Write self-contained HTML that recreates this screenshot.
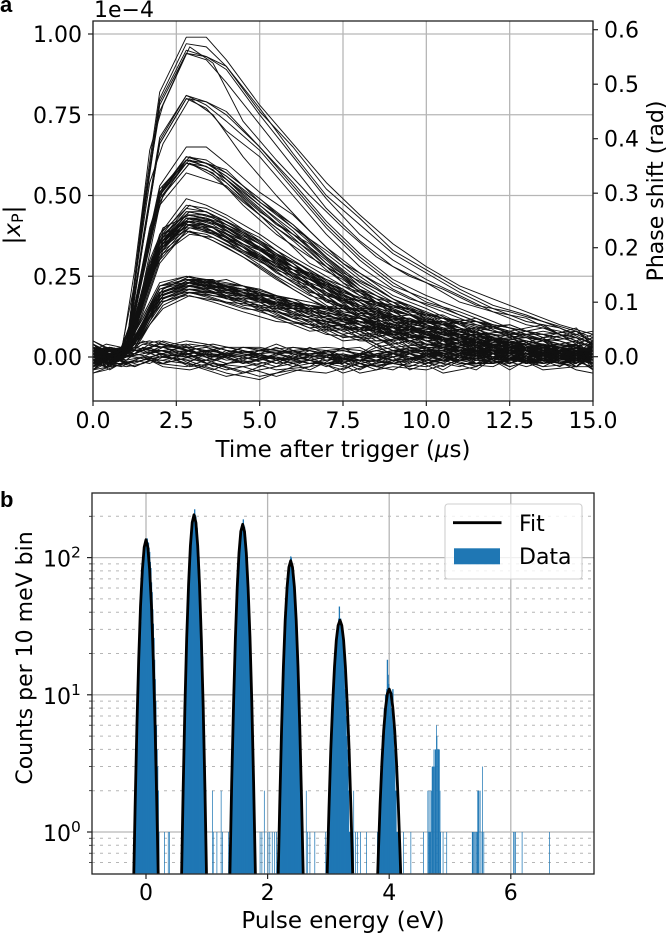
<!DOCTYPE html>
<html lang="en">
<head>
<meta charset="utf-8">
<title>Pulse response and energy histogram</title>
<style>
html,body{margin:0;padding:0;background:#fff;}
svg{display:block;}
text{font-family:"DejaVu Sans","Liberation Sans",sans-serif;fill:#000;}
.panel{font-family:"Liberation Sans",sans-serif;font-weight:bold;font-size:22px;}
</style>
</head>
<body>
<svg id="fig" xmlns="http://www.w3.org/2000/svg" width="666" height="933" viewBox="0 0 666 933">
  <defs>
    <clipPath id="clipA"><rect x="93" y="21" width="500" height="380"/></clipPath>
    <clipPath id="clipB"><rect x="92" y="493" width="502" height="381"/></clipPath>
  </defs>
  <g id="panelA"></g>
  <g id="panelB"></g>
</svg>
<script>
// ---------- Panel a data ----------
const traceTimes = [0,0.5,1,1.5,2,2.8,3.4,4,5,6,7,8,9,10,11,12,13,14,15];
const traceTimesB = [0,0.4,0.85,1.25,1.7,2.1,2.9,3.6,4.5,5.5,6.5,7.5,8.5,9.5,10.5,11.5,12.5,13.5,14.5,15];
// |x_P| values in units of 1e-6 (axis value x 100)
const traces1 = [
[1,-1,2,46,82,99,99,92,78,66,54,44,35,28,22,18,14,10,7],
[-2,0,3,44,80,97,96,90,76,65,52,43,33,27,21,16,13,9,5],
[2,1,1,43,79,95,93,90,77,63,50,41,32,26,20,15,11,9,4],
[0,-2,2,42,78,94,93,89,75,62,49,38,30,24,19,14,12,7,3],
[-1,1,3,45,76,94,92,85,72,59,46,36,28,23,17,14,10,8,4]
];
const traces2 = [
[1,-1,3,37,68,81,79,76,65,53,41,31,23,17,14,10,8,6,3],
[-2,1,2,36,67,81,78,73,64,52,40,30,22,18,13,9,6,5,2],
[0,2,1,35,66,80,79,75,65,54,42,32,24,19,15,11,7,4,1],
[3,0,3,35,66,80,77,70,62,50,38,28,21,16,12,8,7,3,4]
];
const traces3 = [
[-1,1,3,29,53,65,65,60,51,44,34,26,19,15,10,7,6,4,2],
[2,-1,2,28,51,62,61,57,49,41,32,24,18,13,11,8,5,2,3],
[0,0,1,27,50,62,60,58,48,40,31,23,17,12,9,6,4,3,0],
[-2,2,3,28,52,61,60,56,47,39,29,22,16,13,8,7,3,4,1],
[1,-2,2,27,50,61,59,55,47,38,30,21,15,11,9,5,6,1,-1],
[3,1,1,26,49,60,59,55,46,37,28,21,17,10,7,6,2,3,2],
[-1,0,3,28,51,62,60,57,49,40,33,25,18,14,10,5,4,1,0],
[0,-1,2,27,50,60,58,54,45,38,29,20,14,12,8,4,5,2,-2],
[2,2,1,25,48,61,60,56,48,41,31,22,16,11,7,6,3,0,1],
[-3,0,2,22,47,57,55,53,44,36,27,19,14,9,8,5,3,2,3]
];
const traces4 = [
[1,2,3,21,38,49,47,44,38,31,25,19,15,11,9,6,5,2,3],
[-2,0,2,20,37,47,46,43,36,30,24,18,13,10,7,7,3,4,1],
[3,-1,1,20,36,46,45,42,37,29,22,17,12,9,8,4,2,1,-1],
[0,1,2,19,36,45,45,41,36,30,23,16,13,10,6,5,4,0,2],
[-1,-2,3,20,35,45,44,42,35,28,23,18,11,8,7,3,5,3,0],
[2,0,1,19,35,44,44,41,35,29,21,15,12,9,5,6,1,2,-2],
[-3,1,2,19,35,44,43,40,34,27,21,17,10,11,6,4,3,-1,1],
[1,3,2,18,34,44,43,41,36,28,22,14,11,8,7,2,4,2,3],
[0,-1,1,18,34,43,43,39,34,29,20,16,13,7,4,5,2,3,-1],
[4,0,3,20,35,43,42,40,33,26,22,15,9,10,6,3,1,1,2],
[-2,2,1,17,33,43,42,40,35,27,19,16,12,6,5,4,3,0,0],
[1,-3,2,18,34,43,41,39,33,28,21,13,10,8,3,5,0,2,1],
[-1,1,2,18,33,42,41,38,32,25,20,15,8,9,5,2,3,-2,-1],
[2,2,1,17,33,42,42,40,34,26,18,14,11,5,6,1,4,1,3],
[0,-2,3,17,32,42,40,37,33,26,19,12,9,7,4,3,-1,2,0],
[-4,0,1,16,32,41,41,38,31,24,20,13,10,4,2,4,1,0,-2],
[3,1,2,17,33,41,39,37,31,25,17,14,7,6,4,0,2,-1,1],
[-1,-1,1,16,31,40,40,36,30,23,16,11,8,5,3,1,2,1,-1],
[1,0,2,15,30,39,38,35,30,23,18,12,6,4,1,2,-2,0,2],
[-2,1,1,14,29,39,37,34,28,21,15,10,7,3,2,-1,1,-1,0]
];
const traces5 = [
[0,2,2,13,23,25,24,23,21,17,15,12,9,9,6,5,3,2,3],
[-1,-1,3,12,22,25,23,24,20,16,14,11,10,7,5,4,1,3,1],
[2,0,1,11,22,24,24,21,19,18,13,10,8,6,7,2,3,0,-1],
[-2,1,2,11,21,24,23,22,20,15,15,12,7,8,4,5,2,1,2],
[3,-2,1,11,21,24,22,21,21,17,12,11,9,5,6,3,0,2,0],
[1,0,3,12,22,23,24,22,18,16,13,9,10,7,3,4,1,-1,1],
[-3,1,1,10,20,23,23,20,19,14,14,10,6,6,5,1,2,3,-2],
[0,3,2,10,21,23,22,21,20,17,11,12,8,4,4,3,-1,0,3],
[1,-1,1,10,20,23,22,20,18,15,12,8,9,6,2,2,3,1,0],
[-1,0,2,10,20,22,23,21,17,16,13,10,5,7,5,0,1,2,-1],
[4,1,1,11,20,22,21,19,19,14,10,9,7,3,3,4,-2,1,1],
[-2,2,3,9,19,22,21,22,18,13,12,7,8,5,1,2,2,-1,2],
[2,-3,1,9,19,22,22,19,16,15,9,11,6,4,4,-1,0,3,0],
[0,0,2,9,19,21,20,20,17,12,11,8,4,6,2,3,-1,0,-2],
[-1,1,1,8,18,21,21,18,18,14,10,6,7,2,0,1,3,-2,1],
[1,-1,2,9,18,20,20,19,15,13,8,9,3,4,3,-2,1,2,-1],
[3,2,1,8,18,20,19,17,16,11,9,5,5,1,1,2,-2,0,0],
[-3,0,2,7,17,19,18,17,14,11,7,6,2,3,-1,0,1,-1,2]
];
const traces6 = [
[1,3,2,2,4,3,2,1,2,3,1,0,2,1,3,0,-1,2,1],
[-1,0,-1,3,1,2,3,1,2,0,-2,1,0,2,-1,1,2,-1,0],
[3,2,1,4,3,5,4,2,1,2,3,2,-1,0,1,3,0,1,-2],
[-2,-1,0,1,2,0,1,3,3,1,0,-1,1,-2,0,-1,3,0,2],
[0,1,-2,-1,0,1,-1,2,0,-1,2,-3,-2,1,2,1,-2,1,-1],
[2,-2,0,2,4,2,0,-2,-1,2,-1,1,3,-1,-1,2,1,-3,3],
[-4,-3,-2,0,-1,-2,1,0,-3,1,1,-2,0,3,-2,-2,1,2,0],
[4,1,-1,3,2,1,2,3,1,-2,0,-3,-1,-2,1,0,-1,-1,-1],
[-5,-3,-2,-1,1,0,-2,-4,-2,0,-2,-1,2,0,3,-1,0,2,1],
[1,-1,1,5,3,3,0,1,-1,3,2,3,-2,-3,0,2,-2,0,-3],
[-3,-2,-3,-2,0,-1,-3,-5,-7,-3,-1,0,1,-1,-3,1,1,-2,2],
[2,3,0,1,3,4,1,-1,0,-1,1,-4,1,2,-2,-3,2,1,-1],
[-1,-4,-1,0,-2,-3,-1,-3,-6,-4,-5,-2,-4,1,1,0,-3,0,1],
[5,2,1,4,5,2,3,1,2,1,-3,1,-1,0,2,-2,0,-2,0],
[-2,0,-2,-1,1,-2,-4,-6,-4,-2,0,-5,-3,-4,-1,1,-2,3,-4],
[0,-2,0,2,0,1,-2,0,1,-3,2,-1,-2,1,-1,-1,3,-1,2]
];
// Second set sampled on traceTimesB
const tracesHighB = [
[2,0,1,27,64,78,96,91,73,61,50,40,31,25,21,16,14,11,8,4],
[-1,1,2,23,54,66,80,75,62,50,39,29,23,18,15,11,8,5,6,2],
[1,-2,2,15,38,52,62,59,50,41,35,26,21,15,12,6,7,2,4,-1],
[-2,2,1,13,37,50,60,57,47,38,31,25,17,15,8,9,3,6,-1,3],
[3,0,3,14,36,50,60,56,48,40,33,23,18,11,10,4,5,3,1,-2],
[0,1,0,16,40,53,61,58,49,39,29,24,16,13,7,8,-1,4,2,0]
];
const tracesMidB = [
[2,-3,1,11,29,39,47,44,39,32,27,20,16,13,9,8,3,5,-1,2],
[-3,1,0,9,27,38,45,43,37,30,24,21,13,11,11,5,6,1,2,-3],
[1,3,2,12,30,40,44,42,36,31,25,18,17,9,7,9,2,3,4,1],
[4,0,-1,10,28,37,43,41,35,28,26,19,12,12,6,4,7,-2,1,3],
[-1,-2,1,8,26,36,43,42,38,29,22,17,14,8,10,6,1,4,-3,0],
[0,2,3,11,28,38,42,40,34,27,23,15,15,10,5,7,4,0,3,-2],
[-4,-1,2,9,27,36,41,40,33,29,20,18,10,11,8,2,5,2,-1,4],
[3,1,0,10,26,35,41,38,34,26,21,14,13,6,9,3,-1,3,5,0],
[-2,0,1,8,25,35,40,39,32,25,19,16,9,10,4,5,2,-2,0,-4],
[1,-3,2,7,24,33,39,36,31,24,18,13,11,5,3,6,-2,1,2,1]
];
const tracesLowB = [
[-1,2,1,6,15,21,25,23,21,18,15,15,10,8,9,4,3,5,-2,1],
[3,-2,0,5,15,20,24,24,19,19,13,12,12,6,7,6,-1,2,4,-3],
[0,1,2,6,14,20,24,22,22,16,16,11,9,10,4,2,5,-1,1,3],
[-3,-1,1,5,14,20,23,23,20,17,14,13,7,9,6,5,1,3,-3,2],
[2,3,0,5,14,19,23,21,18,18,12,10,11,5,8,1,4,0,2,-1],
[1,-3,-1,4,13,19,23,22,21,15,15,9,8,7,3,4,-2,4,1,5],
[-2,0,2,5,13,19,22,22,19,16,11,12,6,9,5,-1,3,1,-1,0],
[4,1,1,4,13,18,22,20,17,17,13,8,10,3,2,5,0,-2,3,-2],
[-1,-2,0,4,12,18,22,21,20,14,10,11,5,6,6,2,-2,2,0,1],
[0,2,1,3,12,18,21,20,16,15,12,7,9,4,1,3,1,-3,-2,4],
[-4,0,1,3,11,17,21,19,18,13,9,10,4,7,3,0,4,1,2,-1],
[2,-1,2,4,12,17,20,18,15,14,11,6,7,2,5,-2,-1,-1,-3,2],
[1,1,0,3,10,16,20,19,17,12,8,9,3,5,0,1,2,3,1,-2],
[-2,3,-1,2,10,15,19,17,14,11,10,5,6,1,-1,3,-3,0,-1,3]
];
const tracesBaseB = [
[2,4,3,2,3,5,3,4,2,-1,1,2,-1,3,0,-3,2,4,-2,5],
[-3,-1,0,1,3,0,2,-1,3,1,-2,-2,3,-1,4,1,-3,0,3,-4],
[1,-2,-3,-1,1,2,-2,-4,0,-3,2,0,-4,1,-2,3,1,-2,-1,2],
[4,2,1,1,4,3,1,2,-1,3,-1,-3,1,2,2,-2,4,2,1,0],
[-5,-4,-2,-3,-1,-2,0,1,-2,0,-4,1,-1,-3,1,-1,-2,3,-3,1],
[0,1,2,3,2,1,4,3,1,-2,3,-1,2,0,-3,2,0,-3,2,-2],
[-2,-3,-1,-2,0,1,-3,-2,-5,-1,0,-5,-2,2,-1,-4,3,1,-2,3],
[3,0,-1,4,5,4,2,0,3,2,1,2,0,-2,3,0,-1,-1,4,-1],
[-1,2,1,0,-1,-1,1,-3,-1,-4,-3,3,-3,1,-4,2,-4,2,0,4],
[1,-1,0,2,1,3,0,2,-2,1,2,-2,4,-4,0,-2,1,-4,-3,-3],
[-4,-2,-2,-1,-2,0,-1,-1,2,-2,-1,-4,1,3,-1,1,2,0,1,1],
[5,3,1,3,2,2,3,1,0,4,0,1,-3,-1,2,-1,-2,3,-1,-2],
[-2,1,-1,-3,-1,-3,-4,-2,-3,-6,-3,-1,-1,-3,1,3,-1,-2,2,2],
[0,-1,2,1,0,-2,2,0,1,0,-2,0,2,0,-5,-3,3,1,-4,-5]
];
const tracesSlowB = [
[1,-1,2,8,25,34,40,38,33,28,24,20,17,14,12,11,9,7,8,5],
[-2,2,1,7,24,32,38,37,32,27,23,19,16,15,10,12,7,9,5,7],
[0,0,1,9,26,35,41,39,34,29,25,21,15,13,13,8,10,6,9,3],
[2,1,0,10,27,36,42,40,36,30,26,22,18,16,11,10,8,10,4,6],
[-1,-3,1,4,14,20,24,23,21,18,16,15,14,11,12,9,10,6,7,8],
[3,0,2,5,15,21,25,23,22,19,17,14,12,13,10,11,6,8,6,4],
[-3,1,0,4,13,19,23,22,20,19,15,16,13,10,11,7,8,5,8,6],
[0,2,1,4,14,20,23,21,19,17,16,13,11,12,8,9,7,7,3,5]
];
const allTraces = [traces1,traces2,traces3,traces4,traces5,traces6];
const allTracesB = [tracesHighB,tracesMidB,tracesLowB,tracesBaseB,tracesSlowB];
const xTicksA = [0,2.5,5,7.5,10,12.5,15];
const xTickLabelsA = ["0.0","2.5","5.0","7.5","10.0","12.5","15.0"];
const yTicksA = [0,0.25,0.5,0.75,1];
const yTickLabelsA = ["0.00","0.25","0.50","0.75","1.00"];
const yTicksRight = [0,0.1,0.2,0.3,0.4,0.5,0.6];
const yTickLabelsRight = ["0.0","0.1","0.2","0.3","0.4","0.5","0.6"];

// ---------- Panel b data ----------
const fitCenters = [0,0.79,1.59,2.38,3.19,4.0];
const fitOffsets = [0,0.03,0.06,0.09,0.12,0.15,0.18,0.21];
const fitPeak0 = [135,119,82,44,18,5.9,1.5,0.3];
const fitPeak1 = [205,180,122,64,26,8.1,1.95,0.37];
const fitPeak2 = [175,155,108,60,26,8.8,2.3,0.49];
const fitPeak3 = [95,85,61,35,16,5.7,1.66,0.39];
const fitPeak4 = [35,32,25,16,8.7,4,1.5,0.5];
const fitPeak5 = [11,10.2,8.1,5.5,3.2,1.6,0.68,0.25];
const allFit = [fitPeak0,fitPeak1,fitPeak2,fitPeak3,fitPeak4,fitPeak5];
// Counts in 10 meV bins starting at each peak's first bin
const binStarts = [-0.19,0.59,1.39,2.18,2.99,3.82];
const binsPeak0 = [1,1,2,3,5,7,10,14,19,26,34,45,55,68,83,96,108,120,127,132,138,130,128,118,110,93,84,66,56,42,33,26,18,13,9,6,4,3,2,1];
const binsPeak1 = [1,2,3,4,6,9,13,20,27,36,50,65,80,98,122,140,162,180,194,200,225,205,198,178,165,140,120,102,82,62,47,36,25,19,12,8,5,3,2,1];
const binsPeak2 = [1,1,2,4,6,9,13,19,28,38,48,63,78,92,110,128,142,155,170,176,190,172,168,150,140,112,104,80,62,48,38,27,19,13,9,6,4,2,2,1];
const binsPeak3 = [1,1,2,3,4,6,8,11,16,22,28,36,46,52,62,70,80,85,92,102,100,92,84,80,66,60,48,36,30,22,16,11,8,6,4,3,2,1,1,1];
const binsPeak4 = [1,1,1,2,3,4,5,7,8,11,14,17,20,25,27,30,33,36,44,33,36,30,28,24,22,18,15,11,9,7,5,4,3,2,1,1,1,1,1];
const binsPeak5 = [1,1,2,2,3,3,5,5,6,8,8,10,9,11,18,14,12,7,11,10,7,8,6,11,5,3,4,2,2,1,1,1,1,1];
const allBins = [binsPeak0,binsPeak1,binsPeak2,binsPeak3,binsPeak4,binsPeak5];
// Isolated bins away from the fitted peaks
const sparseEnergy = [0.30,0.36,0.38,1.09,1.10,1.16,1.23,1.25,1.35,1.87,1.90,1.94,2.00,2.03,2.07,2.11,2.14,2.63,2.65,2.69,2.77,2.95,3.41,3.44,3.47,3.52,3.62,3.80,4.23,4.35,4.56,4.63,4.64,4.65,4.66,4.67,4.68,4.69,4.70,4.71,4.72,4.73,4.74,4.75,4.76,4.77,4.78,4.79,4.80,4.81,4.82,4.83,4.84,4.88,4.94,5.36,5.37,5.38,5.40,5.41,5.43,5.44,5.45,5.46,5.47,5.49,5.52,5.53,5.55,6.04,6.06,6.07,6.18,6.63];
const sparseCounts = [1,1,1,2,1,1,2,1,1,1,1,2,1,1,1,1,1,2,1,1,1,1,2,1,1,1,1,1,1,1,1,2,1,2,1,1,2,2,3,3,3,4,3,4,4,6,5,4,4,4,4,2,1,1,1,1,1,1,1,1,1,1,2,2,2,2,1,3,1,1,1,1,1,1];
const xTicksB = [0,2,4,6];
const xTickLabelsB = ["0","2","4","6"];
const yDecades = [0,1,2];
const yDecadeLabels = ["0","1","2"];
const yMinorValues = [0.6,0.7,0.8,0.9,2,3,4,5,6,7,8,9,20,30,40,50,60,70,80,90,200];

// ---------- Axis functions ----------
const xA = t => 93 + (t - 0) * (500 / 15);
const yA = v => 357 - v * 323;
const yRight = v => 356.7 - v * 545;
const xB = e => 146 + e * 60.8;
const yB = c => 832 - Math.log10(c) * 137.2;

const NS = 'http://www.w3.org/2000/svg';
function mk(parent, tag, attrs, text) {
  const el = document.createElementNS(NS, tag);
  for (const k in attrs) el.setAttribute(k, attrs[k]);
  if (text !== undefined) el.textContent = text;
  parent.appendChild(el);
  return el;
}
const FS = 22;
const LS = 23;
const AX = '#222';
const GRID = '#b6b6b6';
const blue = '#1f77b4';
const A = document.getElementById('panelA');
const B = document.getElementById('panelB');

// ---------- Panel a ----------
xTicksA.forEach((t, i) => {
  const g = mk(A, 'line', {x1: xA(t), x2: xA(t), y1: 21, y2: 401, stroke: GRID, 'stroke-width': 1.3});
  
  
});
yTicksA.forEach((v, i) => {
  const g = mk(A, 'line', {x1: 93, x2: 593, y1: yA(v), y2: yA(v), stroke: GRID, 'stroke-width': 1.3});
  
  
});
const traceLayer = mk(A, 'g', {'clip-path': 'url(#clipA)', fill: 'none', stroke: '#111', 'stroke-width': 0.95, 'stroke-linejoin': 'round'});


function drawTrace(vals, times) {
  const pts = vals.map((v, i) => xA(times[i]).toFixed(1) + ',' + yA(v / 100).toFixed(1)).join(' ');
  const p = mk(traceLayer, 'polyline', {points: pts});
  
  
}
allTraces.forEach(group => group.forEach(vals => drawTrace(vals, traceTimes)));
allTracesB.forEach(group => group.forEach(vals => drawTrace(vals, traceTimesB)));
const frameA = mk(A, 'rect', {x: 93, y: 21, width: 500, height: 380, fill: 'none', stroke: AX, 'stroke-width': 1.3});


xTicksA.forEach((t, i) => {
  mk(A, 'line', {x1: xA(t), x2: xA(t), y1: 401, y2: 406, stroke: AX, 'stroke-width': 1.2});
  const l = mk(A, 'text', {x: xA(t), y: 428, 'font-size': FS, 'text-anchor': 'middle'}, xTickLabelsA[i]);
  
  
});
yTicksA.forEach((v, i) => {
  mk(A, 'line', {x1: 88, x2: 93, y1: yA(v), y2: yA(v), stroke: AX, 'stroke-width': 1.2});
  const l = mk(A, 'text', {x: 82, y: yA(v) + 8, 'font-size': FS, 'text-anchor': 'end'}, yTickLabelsA[i]);
  
  
});
yTicksRight.forEach((v, i) => {
  mk(A, 'line', {x1: 593, x2: 598, y1: yRight(v), y2: yRight(v), stroke: AX, 'stroke-width': 1.2});
  const l = mk(A, 'text', {x: 604, y: yRight(v) + 8, 'font-size': FS}, yTickLabelsRight[i]);
  
  
});
const offs = mk(A, 'text', {x: 94, y: 17, 'font-size': FS}, '1e\u22124');


const xt = mk(A, 'text', {x: 343, y: 457, 'font-size': LS, 'text-anchor': 'middle'});


mk(xt, 'tspan', {}, 'Time after trigger (');
mk(xt, 'tspan', {'font-style': 'italic'}, '\u03bc');
mk(xt, 'tspan', {}, 's)');
const yt = mk(A, 'text', {transform: 'translate(20 225) rotate(-90)', 'font-size': LS, 'text-anchor': 'middle'});


mk(yt, 'tspan', {}, '|');
mk(yt, 'tspan', {'font-style': 'italic'}, 'x');
mk(yt, 'tspan', {'font-size': 16, dy: 3}, 'P');
mk(yt, 'tspan', {dy: -3}, '|');
const rt = mk(A, 'text', {transform: 'translate(663 191) rotate(-90)', 'font-size': 22, 'text-anchor': 'middle'}, 'Phase shift (rad)');


const pa = mk(A, 'text', {x: 0, y: 12, class: 'panel'}, 'a');



// ---------- Panel b ----------
yMinorValues.forEach(v => {
  const g = mk(B, 'line', {x1: 92, x2: 594, y1: yB(v), y2: yB(v), stroke: GRID, 'stroke-width': 1, 'stroke-dasharray': '3 5'});
  
  
});
xTicksB.forEach(e => {
  const g = mk(B, 'line', {x1: xB(e), x2: xB(e), y1: 493, y2: 874, stroke: GRID, 'stroke-width': 1.3});
  
  
});
yDecades.forEach(d => {
  const g = mk(B, 'line', {x1: 92, x2: 594, y1: yB(Math.pow(10, d)), y2: yB(Math.pow(10, d)), stroke: GRID, 'stroke-width': 1.3});
  
  
});
const barLayer = mk(B, 'g', {'clip-path': 'url(#clipB)', fill: blue});


const binW = 0.01;
function addBar(e, c, extra) {
  const x0 = xB(e), y0 = yB(c);
  const r = mk(barLayer, 'rect', {x: x0.toFixed(2), y: y0.toFixed(2), width: ((xB(e + binW) - x0) + extra).toFixed(2), height: (yB(0.5) - y0).toFixed(2)});
  
  
}
allBins.forEach((bins, k) => {
  bins.forEach((c, i) => addBar(binStarts[k] + i * binW, c, 0.7));
});
sparseEnergy.forEach((e, i) => addBar(e, sparseCounts[i], 0.12));
const fitLayer = mk(B, 'g', {'clip-path': 'url(#clipB)', fill: 'none', stroke: '#000', 'stroke-width': 2.8, 'stroke-linejoin': 'round'});


allFit.forEach((vals, k) => {
  const left = vals.map((c, i) => [fitCenters[k] - fitOffsets[i], c]).reverse();
  const right = vals.slice(1).map((c, i) => [fitCenters[k] + fitOffsets[i + 1], c]);
  const pts = left.concat(right).map(p => xB(p[0]).toFixed(1) + ',' + yB(p[1]).toFixed(1)).join(' ');
  const pl = mk(fitLayer, 'polyline', {points: pts});
  
  
});
const frameB = mk(B, 'rect', {x: 92, y: 493, width: 502, height: 381, fill: 'none', stroke: AX, 'stroke-width': 1.3});


xTicksB.forEach((e, i) => {
  mk(B, 'line', {x1: xB(e), x2: xB(e), y1: 874, y2: 879, stroke: AX, 'stroke-width': 1.2});
  const l = mk(B, 'text', {x: xB(e), y: 900, 'font-size': FS, 'text-anchor': 'middle'}, xTickLabelsB[i]);
  
  
});
yDecades.forEach((d, i) => {
  const y = yB(Math.pow(10, d));
  mk(B, 'line', {x1: 87, x2: 92, y1: y, y2: y, stroke: AX, 'stroke-width': 1.2});
  const l = mk(B, 'text', {x: 43, y: y + 9, 'font-size': FS});
  
  
  mk(l, 'tspan', {}, '10');
  mk(l, 'tspan', {'font-size': 15.5, dy: -9}, yDecadeLabels[i]);
});
yMinorValues.forEach(v => {
  mk(B, 'line', {x1: 89, x2: 92, y1: yB(v), y2: yB(v), stroke: AX, 'stroke-width': 0.8});
});
const xtb = mk(B, 'text', {x: 343, y: 928, 'font-size': LS, 'text-anchor': 'middle'}, 'Pulse energy (eV)');


const ytb = mk(B, 'text', {transform: 'translate(32 658) rotate(-90)', 'font-size': 22, 'text-anchor': 'middle'}, 'Counts per 10 meV bin');


const pb = mk(B, 'text', {x: 0, y: 507, class: 'panel'}, 'b');



// Legend
const legend = mk(B, 'g', {});


mk(legend, 'rect', {x: 445, y: 504, width: 137, height: 75, rx: 3, fill: '#fff', 'fill-opacity': 0.8, stroke: '#cfcfcf', 'stroke-width': 1.1});
const lf = mk(legend, 'line', {x1: 453, x2: 501.5, y1: 522.7, y2: 522.7, stroke: '#000', 'stroke-width': 2.8});


const lft = mk(legend, 'text', {x: 519, y: 531, 'font-size': FS}, 'Fit');


const ld = mk(legend, 'rect', {x: 454, y: 548.3, width: 46, height: 16, fill: blue});


const ldt = mk(legend, 'text', {x: 519, y: 564, 'font-size': FS}, 'Data');


</script>
</body>
</html>
